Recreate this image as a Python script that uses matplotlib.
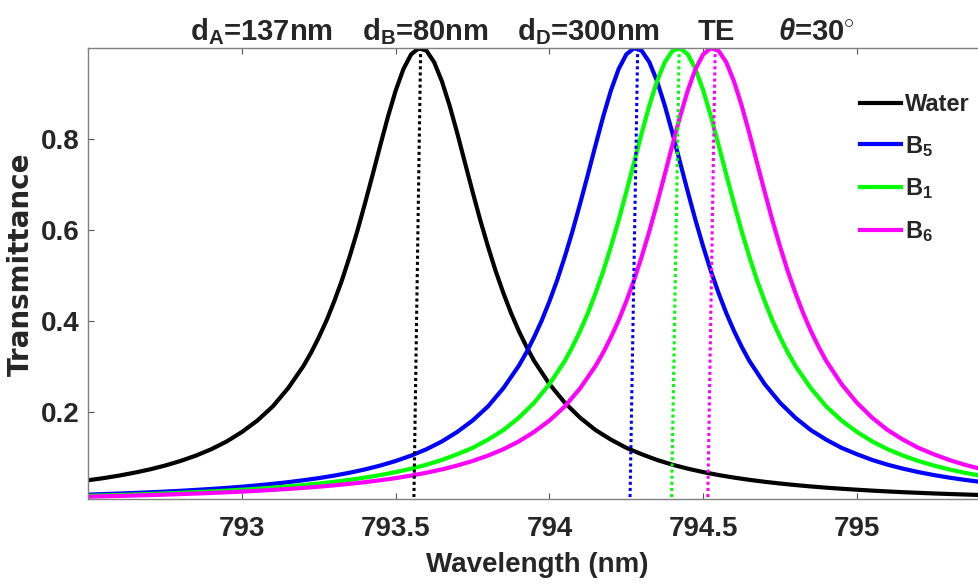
import numpy as np
import matplotlib
matplotlib.use('Agg')
import matplotlib.pyplot as plt

# wavelength grid (nm)
wavelength = np.round(np.arange(792.50, 795.401, 0.05), 2)

water = [0.0509, 0.0556, 0.0611, 0.0674, 0.0747, 0.0832, 0.0932, 0.105, 0.119, 0.136,
         0.157, 0.182, 0.213, 0.253, 0.302, 0.365, 0.444, 0.542, 0.659, 0.787,
         0.907, 0.986, 0.994, 0.927, 0.813, 0.684, 0.564, 0.462, 0.379, 0.313,
         0.262, 0.221, 0.188, 0.161, 0.140, 0.122, 0.108, 0.0954, 0.0850, 0.0763,
         0.0688, 0.0623, 0.0567, 0.0518, 0.0475, 0.0437, 0.0403, 0.0373, 0.0346, 0.0322,
         0.0301, 0.0281, 0.0263, 0.0247, 0.0233, 0.0219, 0.0207, 0.0196, 0.0185]

b5 = [0.0193, 0.0205, 0.0217, 0.0230, 0.0244, 0.0260, 0.0277, 0.0297, 0.0318, 0.0341,
      0.0367, 0.0397, 0.0430, 0.0467, 0.0509, 0.0556, 0.0611, 0.0674, 0.0747, 0.0832,
      0.0932, 0.105, 0.119, 0.136, 0.157, 0.182, 0.213, 0.253, 0.302, 0.365,
      0.444, 0.542, 0.659, 0.787, 0.907, 0.986, 0.994, 0.927, 0.813, 0.684,
      0.564, 0.462, 0.379, 0.313, 0.262, 0.221, 0.188, 0.161, 0.140, 0.122,
      0.108, 0.0954, 0.0850, 0.0763, 0.0688, 0.0623, 0.0567, 0.0518, 0.0475]

b1 = [0.0167, 0.0176, 0.0185, 0.0196, 0.0207, 0.0219, 0.0233, 0.0247, 0.0263, 0.0281,
      0.0301, 0.0322, 0.0346, 0.0373, 0.0403, 0.0437, 0.0475, 0.0518, 0.0567, 0.0623,
      0.0688, 0.0763, 0.0850, 0.0954, 0.108, 0.122, 0.140, 0.161, 0.188, 0.221,
      0.262, 0.313, 0.379, 0.462, 0.564, 0.684, 0.813, 0.927, 0.994, 0.986,
      0.907, 0.787, 0.659, 0.542, 0.444, 0.365, 0.302, 0.253, 0.213, 0.182,
      0.157, 0.136, 0.119, 0.105, 0.0932, 0.0832, 0.0747, 0.0674, 0.0611]

b6 = [0.0149, 0.0157, 0.0165, 0.0174, 0.0183, 0.0193, 0.0205, 0.0217, 0.0230, 0.0244,
      0.0260, 0.0277, 0.0297, 0.0318, 0.0341, 0.0367, 0.0397, 0.0430, 0.0467, 0.0509,
      0.0556, 0.0611, 0.0674, 0.0747, 0.0832, 0.0932, 0.105, 0.119, 0.136, 0.157,
      0.182, 0.213, 0.253, 0.302, 0.365, 0.444, 0.542, 0.659, 0.787, 0.907,
      0.986, 0.994, 0.927, 0.813, 0.684, 0.564, 0.462, 0.379, 0.313, 0.262,
      0.221, 0.188, 0.161, 0.140, 0.122, 0.108, 0.0954, 0.0850, 0.0763]

# extra readings around each resonance peak (in between the grid points)
water_pk_wl = [793.225, 793.275, 793.325, 793.375, 793.425, 793.475, 793.525, 793.575,
               793.625, 793.675, 793.725, 793.775, 793.825, 793.875, 793.925]
water_pk = [0.3315, 0.4019, 0.4901, 0.5980, 0.7223, 0.8500, 0.9538, 0.9996,
            0.9686, 0.8738, 0.7483, 0.6217, 0.5101, 0.4180, 0.3443]

b5_pk_wl = [793.925, 793.975, 794.025, 794.075, 794.125, 794.175, 794.225, 794.275,
            794.325, 794.375, 794.425, 794.475, 794.525, 794.575, 794.625]
b5_pk = [0.3315, 0.4019, 0.4901, 0.5980, 0.7223, 0.8500, 0.9538, 0.9996,
         0.9686, 0.8738, 0.7483, 0.6217, 0.5101, 0.4180, 0.3443]

b1_pk_wl = [794.075, 794.125, 794.175, 794.225, 794.275, 794.325, 794.375, 794.425,
            794.475, 794.525, 794.575, 794.625, 794.675, 794.725, 794.775]
b1_pk = [0.3443, 0.4180, 0.5101, 0.6217, 0.7483, 0.8738, 0.9686, 0.9996,
         0.9538, 0.8500, 0.7223, 0.5980, 0.4901, 0.4019, 0.3315]

b6_pk_wl = [794.175, 794.225, 794.275, 794.325, 794.375, 794.425, 794.475, 794.525,
            794.575, 794.625, 794.675, 794.725, 794.775, 794.825, 794.875]
b6_pk = [0.3315, 0.4019, 0.4901, 0.5980, 0.7223, 0.8500, 0.9538, 0.9996,
         0.9686, 0.8738, 0.7483, 0.6217, 0.5101, 0.4180, 0.3443]

labels = ['Water', 'B$_{5}$', 'B$_{1}$', 'B$_{6}$']
colors = ['black', '#0000ff', '#00ff00', '#ff00ff']

# resonance markers (top / bottom of the dotted lines)
peak_top = [793.581, 794.287, 794.422, 794.539]
peak_bottom = [793.559, 794.262, 794.397, 794.515]

top_texts = ['d$_{\\mathrm{A}}$=137nm', 'd$_{\\mathrm{B}}$=80nm', 'd$_{\\mathrm{D}}$=300nm',
             'TE', '$\\theta$=30$^{\\circ}$']
top_x = [190, 362, 517, 698, 778]

plt.rcParams['font.family'] = ['Liberation Sans', 'DejaVu Sans']
plt.rcParams['font.weight'] = 'bold'
plt.rcParams['mathtext.fontset'] = 'custom'
plt.rcParams['mathtext.rm'] = 'Liberation Sans:bold'
plt.rcParams['mathtext.bf'] = 'Liberation Sans:bold'
plt.rcParams['mathtext.it'] = 'Liberation Sans:italic:bold'

fig = plt.figure(figsize=(9.79, 5.85), dpi=100)
ax = fig.add_axes([0.0902, 0.147, 0.917, 0.771])

series = [(water, water_pk_wl, water_pk), (b5, b5_pk_wl, b5_pk),
          (b1, b1_pk_wl, b1_pk), (b6, b6_pk_wl, b6_pk)]
lines = []
for (y, pk_x, pk_y), c, lab in zip(series, colors, labels):
    x_all = np.concatenate([wavelength, pk_x])
    y_all = np.concatenate([y, pk_y])
    order = np.argsort(x_all)
    ln, = ax.plot(x_all[order], y_all[order], color=c, lw=3, label=lab,
                  solid_joinstyle='round')
    lines.append(ln)

ymin = 0.0097
for xt, xb, c in zip(peak_top, peak_bottom, colors):
    ax.plot([xt, xb], [1.0, ymin], color=c, lw=2.2, ls=(0, (1, 1)))

ax.set_xlim(792.5, 795.42)
ax.set_ylim(ymin, 1.0)
ax.set_xticks([793, 793.5, 794, 794.5, 795])
ax.set_xticklabels(['793', '793.5', '794', '794.5', '795'])
ax.set_yticks([0.2, 0.4, 0.6, 0.8])
ax.set_yticklabels(['0.2', '0.4', '0.6', '0.8'])

for s in ax.spines.values():
    s.set_color('#808080')
    s.set_linewidth(1)
ax.tick_params(direction='in', top=True, right=True, length=4.5, width=0.8,
               color='#555555', labelsize=20, labelcolor='#262626')
ax.tick_params(axis='x', pad=12)
ax.tick_params(axis='y', pad=6)

ax.set_xlabel('Wavelength (nm)', fontsize=20, fontweight='bold', color='#262626')
ax.xaxis.set_label_coords(0.5, -0.118)
ax.set_ylabel('Transmittance', fontsize=20, fontweight='bold', color='#262626',
              family='DejaVu Sans')
ax.yaxis.set_label_coords(-0.06, 0.52)

leg = ax.legend(handles=lines, loc='upper left', bbox_to_anchor=(860 / 979, 1 - 93 / 585),
                bbox_transform=fig.transFigure, frameon=False, fontsize=17,
                handlelength=1.75, handletextpad=0.15, labelspacing=0.75,
                borderpad=0, borderaxespad=0)
for t in leg.get_texts():
    t.set_color('#262626')

for txt, x in zip(top_texts, top_x):
    fig.text(x / 979, 1 - 40 / 585, txt, fontsize=21, color='#262626',
             ha='left', va='baseline')

fig.savefig('out.png', dpi=100)
